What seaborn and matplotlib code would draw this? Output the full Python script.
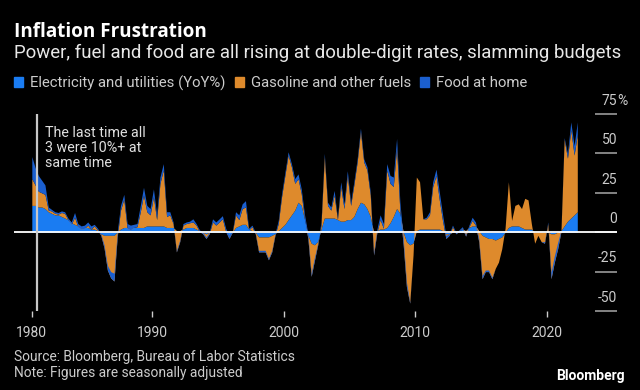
import matplotlib
matplotlib.use("Agg")
import matplotlib.pyplot as plt
import matplotlib.transforms as mtransforms
from matplotlib.patches import Patch
import pandas as pd
import seaborn as sns

# quarterly points, Nov 1980 .. May 2022 (YoY %)
dates = pd.date_range("1980-11-01", periods=167, freq="3MS")

electricity = [
    17,
    17, 16, 16, 15,   # 1981
    13, 12, 11, 11,   # 1982
    10, 9, 8, 6,      # 1983
    5, 4, 3, 3,       # 1984
    3, 2, 2, 1,       # 1985
    -1, -2, -2, -2,   # 1986
    -2, 0, 2, 3,      # 1987
    3, 3, 3, 3,       # 1988
    3, 3, 4, 4,       # 1989
    4, 4, 4, 4,       # 1990
    3, 3, 3, 1,       # 1991
    1, 2, 3, 3,       # 1992
    3, 2, 1, 0,       # 1993
    -1, 0, 1, 1,      # 1994
    1, 1, 0, -2,      # 1995
    0, 3, 4, 5,       # 1996
    5, 2, 1, 0,       # 1997
    -3, -3, -3, -3,   # 1998
    -2, -1, 1, 3,     # 1999
    5, 8, 11, 14,     # 2000
    19, 17, 8, -2,    # 2001
    -7, -8, -6, 2,    # 2002
    9, 9, 9, 9,       # 2003
    8, 7, 7, 8,       # 2004
    8, 10, 15, 19,    # 2005
    18, 15, 10, 0,    # 2006
    1, 2, 2, 3,       # 2007
    6, 10, 15, 12,    # 2008
    0, -6, -8, -7,    # 2009
    1, 2, 2, 2,       # 2010
    2, 2, 2, 2,       # 2011
    1, -1, -1, 0,     # 2012
    0.5, 1, 2, 1,     # 2013
    3, 4, 4, 1,       # 2014
    -2, -3, -4, -4,   # 2015
    -5, -4, -3, 0,    # 2016
    3, 4, 4, 4,       # 2017
    3, 2, 2, 2,       # 2018
    0, 0, 0, 0,       # 2019
    0, -1, -1, 0,     # 2020
    1, 4, 7, 9,       # 2021
    11, 13,           # 2022
]

gasoline = [
    17,
    13, 10, 9, 9,
    1, 1.5, 1, 0.5,
    2.5, 3, 0, -1,
    4.5, -0.5, -1, -0.5,
    1.5, 0, 2, 0.5,
    -1, -8, -22, -27,
    -29, -3, 12, 18,
    -0.5, -1.5, 0, 0.5,
    10, 20.5, 9, 7,
    18.5, 4, 27, 35.5,
    7, 8, 2.5, -13.5,
    -7, 2.5, 2.5, 3,
    3.5, 2.5, -0.5, -1,
    -3, -1, 5.5, 3.5,
    5.5, 7.5, 0.5, -2,
    0, 8, 4, 10,
    11, -0.5, 2.5, -1,
    -9.5, -9.5, -9.5, -14.5,
    -10.5, -1, 4.5, 19.5,
    31, 41, 30.5, 17,
    15, 7.5, 0, -2,
    -21, -10, -2, 2.5,
    39, 8, 5, 14.5,
    0, 22, 8, 28,
    9, 20, 29.5, 45,
    26.5, 24.5, 13.5, -14.5,
    -1, 6, 0.5, 36.5,
    25, 19, 38.5, 1,
    -8, -28.5, -37, -7.5,
    34, 30, 6.5, 6.5,
    9, 27, 34, 18.5,
    6, -3, -1, 3.5,
    -1.5, -0.5, 0.5, -3.5,
    0.5, 3.5, 0.5, -7,
    -27.5, -22, -21, -25.5,
    -18, -15, -7.5, 2.5,
    29, 3.5, 13, 14,
    12, 19.5, 18.5, 3.5,
    -7, -2, -6, -7,
    5.5, -28.5, -18, -10.5,
    -0.5, 55, 40, 56,
    38, 49,
]

food = [
    14,
    11, 10, 8, 6,
    2, 1, 1, 1,
    1, 1, 1, 1.5,
    3, 2, 2, 2,
    2, 2, 1, 1,
    1, 2, 3, 4,
    5, 3, 3, 3,
    3, 3, 2, 2,
    4, 5, 4, 4,
    5, 3, 4, 4,
    3, 2, 1, 1,
    1, 1, 1, 1,
    2, 1, 1, 1,
    1, 1, 2, 2,
    2, 2, 2, 2,
    0.5, 2, 3, 3,
    4, 1, 1, 1,
    1, 1, 1, 1,
    1, 1, 2, 2,
    2, 2, 2, 3,
    3, 3, 3, 3,
    2, 2, 1, 2,
    2, 2, 2, 3,
    1, 3, 3, 3,
    2, 2, 2, 2,
    2, 2, 2, 2,
    2, 3, 3, 4,
    5, 6, 6, 6,
    4, 3, 1, 0,
    0, 0, 0, 1,
    2, 3, 4, 5,
    4, 2, 1, 1,
    1, 1, 1, 1,
    1, 2, 2, 2,
    2, 1, 1, 1,
    0, 0, 0, 0,
    0, 0, 0, 0,
    0, 0, 0, 0,
    0, 0, 0, 1,
    1, 4, 4, 4,
    1, 1, 3, 5,
    6, 8,
]

series_names = ["Electricity and utilities (YoY%)", "Gasoline and other fuels", "Food at home"]
colors = ["#1a7cf2", "#de8a2c", "#1b5fcf"]
year_labels = ["1980", "1990", "2000", "2010", "2020"]
y_ticks = [-50, -25, 0, 25, 50, 75]

df = pd.DataFrame({"date": dates, "elec": electricity, "gas": gasoline, "food": food})

sns.set_theme(style="dark", rc={"axes.facecolor": "black", "figure.facecolor": "black"})
plt.rcParams["font.family"] = ["Roboto", "DejaVu Sans"]

fig = plt.figure(figsize=(6.4, 3.9), dpi=100)
ax = fig.add_axes([14 / 640, 1 - 311 / 390, (617 - 14) / 640, (311 - 114) / 390])
ax.set_facecolor("black")

ax.stackplot(df["date"], df["elec"], df["gas"], df["food"], colors=colors, linewidth=0)
ax.axhline(0, color="white", lw=1.3)
ax.axvline(pd.Timestamp("1981-03-15"), color="#c8c8c8", lw=1.6)

ax.set_xlim(pd.Timestamp("1979-06-25"), pd.Timestamp("2025-05-08"))
ax.set_ylim(-50, 75)
ax.grid(False)
for s in ax.spines.values():
    s.set_visible(False)

xt = [dates[0]] + [pd.Timestamp(f"{y}-01-01") for y in (1990, 2000, 2010, 2020)]
ax.set_xticks(xt)
ax.set_xticklabels(year_labels)
ax.tick_params(axis="x", colors="#cccccc", length=4, width=1, pad=7, labelsize=10, bottom=True)

ax.yaxis.tick_right()
ax.set_yticks(y_ticks)
ax.set_yticklabels([])
ax.tick_params(axis="y", direction="in", length=16, width=1.2, color="#9a9a9a", right=True, left=False)

up = mtransforms.ScaledTranslation(0, 9.5 / 72, fig.dpi_scale_trans)
ytr = ax.get_yaxis_transform() + up
for v in y_ticks:
    ax.text(1.0, v, str(v), transform=ytr, ha="right", va="center", color="#cccccc", fontsize=10)
    if v == 75:
        ax.text(1.0, v, "%", transform=ytr, ha="left", va="center", color="#cccccc", fontsize=10)

ax.text(pd.Timestamp("1981-11-15"), 67.5, "The last time all\n3 were 10%+ at\nsame time",
        color="#e0e0e0", fontsize=10.3, va="top", ha="left", linespacing=1.1)

handles = [Patch(color=c, label=n) for c, n in zip(colors, series_names)]
fig.legend(handles=handles, loc="center left", bbox_to_anchor=(14 / 640, 1 - 83 / 390), ncol=3,
           frameon=False, fontsize=10.7, handlelength=0.6, handleheight=0.6, handletextpad=0.48,
           columnspacing=0.62, borderaxespad=0, borderpad=0, labelcolor="#cccccc")

fig.text(14 / 640, 1 - 37 / 390, "Inflation Frustration", color="white", fontsize=13.6,
         fontweight="bold", va="baseline", family=["Open Sans", "Lato", "DejaVu Sans"])
fig.text(14 / 640, 1 - 58 / 390, "Power, fuel and food are all rising at double-digit rates, slamming budgets",
         color="#e8e8e8", fontsize=13.4, va="baseline")
fig.text(14 / 640, 1 - 361.5 / 390, "Source: Bloomberg, Bureau of Labor Statistics",
         color="#cccccc", fontsize=9.9, va="baseline")
fig.text(14 / 640, 1 - 376.5 / 390, "Note: Figures are seasonally adjusted",
         color="#cccccc", fontsize=9.9, va="baseline")
fig.text(625 / 640, 1 - 380 / 390, "Bloomberg", color="white", fontsize=10,
         fontweight="bold", va="baseline", ha="right")

fig.savefig("out.png", dpi=100, facecolor="black")
